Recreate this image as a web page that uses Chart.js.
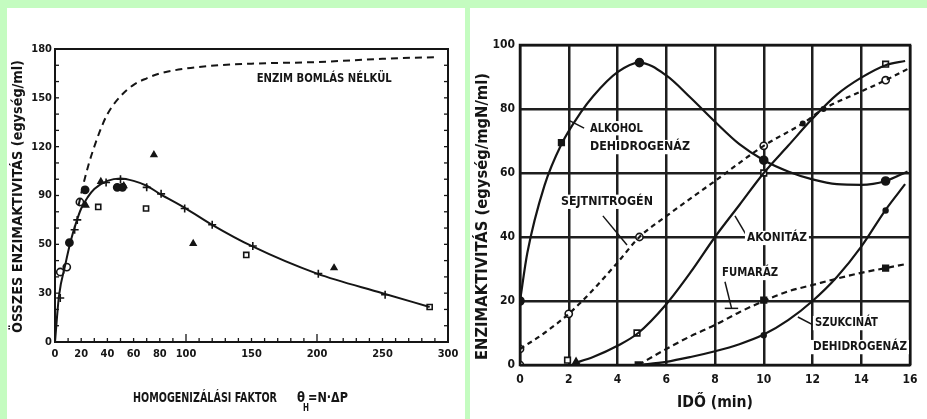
<!DOCTYPE html>
<html><head><meta charset="utf-8">
<script src="https://cdn.jsdelivr.net/npm/chart.js@4.4.1/dist/chart.umd.min.js"></script>
<style>
html,body{margin:0;padding:0;background:#c4fcc0;width:927px;height:419px;overflow:hidden;}
.panel{position:absolute;background:#fff;}
#p1{left:7px;top:8px;width:458px;height:411px;}
#p2{left:470px;top:8px;width:457px;height:411px;}
canvas{display:block;}
</style></head><body>
<div class="panel" id="p1"><canvas id="c1" width="458" height="411"></canvas></div>
<div class="panel" id="p2"><canvas id="c2" width="457" height="411"></canvas></div>
<script>
// ---------- LEFT CHART DATA ----------
const leftTickValuesX = [0,20,40,60,80,100,150,200,250,300];
const leftTickValuesY = [0,30,60,90,120,150,180];
const leftTickLabelsY = ['0','30','50','90','120','150','180'];

const noDecayX = [18,22,26,30,35,40,50,60,70,80,100,125,150,200,250,290];
const noDecayY = [84,98,110,120,131,140,151,158,162,165,168,170,171,172,174,175];

const activityX = [0,3,8,12,16,20,25,30,40,50,60,70,80,100,120,150,200,250,286];
const activityY = [0,28,48,62,73,82,89,94,99,100.5,99,96,91,82,72,59,42,30,21.5];

const crossX = [4,15,17,39,50,70,81,99,120,151,201,252];
const crossY = [27,69,75,98,100,95,91,82,72,59,42,29];
const openCircleX = [4,9,19];
const openCircleY = [43,46,86];
const filledCircleX = [11,23,47.5,51.5];
const filledCircleY = [61,93.5,95,95];
const openSquareX = [33,69.5,146,286];
const openSquareY = [83,82,53.5,21.5];
const triangleX = [23.5,35,52.5,75.5,105.5,213];
const triangleY = [84,98.5,96,115,60.5,45.5];

// ---------- RIGHT CHART DATA ----------
const rightTickValuesX = [0,2,4,6,8,10,12,14,16];
const rightTickValuesY = [0,20,40,60,80,100];

const alkoholX = [0,0.3,1,1.7,2.5,3,4,4.9,6,7,8,9,10,11,12,13,14,15,15.9];
const alkoholY = [20,35,56,69,79,84,91.5,94.5,90.5,83.5,76,69,64,60.5,58,56.5,56.3,57.5,60.5];
const alkoholMarkX = [0,4.9,10,15];
const alkoholMarkY = [20,94.5,64,57.5];
const alkoholSquareX = [1.7];
const alkoholSquareY = [69.5];

const sejtX = [0,1,2,3,4,4.9,6,8,10,11.6,12.45,14,15,15.9];
const sejtY = [5,10,16,23.5,32,40,46.5,57.5,68.5,75.5,80,85.5,89,92.5];
const sejtMarkX = [0,0,2,4.9,10,15];
const sejtMarkY = [0,5,16,40,68.5,89];
const sejtDotX = [11.6,12.45];
const sejtDotY = [75.5,80];

const akonitazX = [2.2,3,4,4.85,6,7,8,9,10,11,12,13,14,15,15.8];
const akonitazY = [0.5,2.5,6,10,19,29,40,50,60,68.5,77,84.5,89.8,93.7,95];
const akonitazMarkX = [1.95,4.8,10,15];
const akonitazMarkY = [1.5,10,60,94];
const akonitazStartX = [2.3];
const akonitazStartY = [1];

const fumarazX = [4.85,6,7,8,9,10,11,12,13,14,15,15.8];
const fumarazY = [0,5,9,12.5,16.5,20,23,25,27,28.8,30.3,31.5];
const fumarazMarkX = [4.85,10,15];
const fumarazMarkY = [0,20.3,30.3];

const szukcX = [4.85,6,7,8,9,10,11,12,13,14,15,15.8];
const szukcY = [0,1,2.5,4.3,6.5,9.5,14,20,27.5,37,48.5,56.5];
const szukcMarkX = [10,15];
const szukcMarkY = [9.3,48.3];

// ---------- helpers ----------
const FONT = '"DejaVu Sans Condensed","DejaVu Sans",sans-serif';
const INK = '#151515';
const zip = (xs, ys) => xs.map((x, i) => ({x, y: ys[i]}));

function curve(xs, ys, dash, width) {
  return {data: zip(xs, ys), showLine: true, borderColor: INK, borderWidth: width || 2,
    borderDash: dash || [], pointRadius: 0, cubicInterpolationMode: 'monotone', fill: false};
}
function marks(xs, ys, style, r, filled) {
  return {data: zip(xs, ys), showLine: false, pointStyle: style, pointRadius: r,
    pointBorderColor: INK, pointBorderWidth: 1.6,
    pointBackgroundColor: filled ? INK : '#fff'};
}
function fixSize(dim, val) { return s => { s[dim] = val; }; }

Chart.defaults.font.family = FONT;
Chart.defaults.font.weight = 'bold';
Chart.defaults.color = INK;

// draw text squeezed horizontally to a target width (left aligned, middle baseline)
function fitText(ctx, txt, x, y, size, width, bg, rot) {
  ctx.save();
  ctx.font = 'bold ' + size + 'px ' + FONT;
  ctx.textAlign = 'left'; ctx.textBaseline = 'middle';
  const w = ctx.measureText(txt).width;
  const sx = width / w;
  ctx.translate(x, y);
  if (rot) ctx.rotate(rot);
  if (bg) { ctx.fillStyle = '#fff'; ctx.fillRect(-2, -size * 0.55, width + 4, size * 1.1); }
  ctx.scale(sx, 1);
  ctx.fillStyle = INK;
  ctx.fillText(txt, 0, 0);
  ctx.restore();
}
function line(ctx, x1, y1, x2, y2, w) {
  ctx.beginPath(); ctx.lineWidth = w || 1.5; ctx.strokeStyle = INK;
  ctx.moveTo(x1, y1); ctx.lineTo(x2, y2); ctx.stroke();
}

// ---------- LEFT CHART ----------
const leftDecor = {
  id: 'leftDecor',
  afterDraw(chart) {
    const {ctx, chartArea: a, scales: {x, y}} = chart;
    ctx.save();
    ctx.lineWidth = 2; ctx.strokeStyle = INK;
    ctx.strokeRect(a.left, a.top, a.right - a.left, a.bottom - a.top);
    for (let v = 10; v < 300; v += 10) {
      const px = x.getPixelForValue(v);
      const len = (v === 100 || v === 200) ? 8 : 4;
      line(ctx, px, a.bottom, px, a.bottom - len, 1.3);
    }
    for (let v = 10; v < 180; v += 10) {
      const py = y.getPixelForValue(v);
      line(ctx, a.left, py, a.left + 4, py, 1.3);
      line(ctx, a.right, py, a.right - 4, py, 1.3);
    }
    fitText(ctx, 'ENZIM BOMLÁS NÉLKÜL', x.getPixelForValue(154), y.getPixelForValue(162), 13, 135);
    // y title (rotated): starts at bottom
    fitText(ctx, 'ÖSSZES ENZIMAKTIVITÁS (egység/ml)', 11, 325, 14, 273, false, -Math.PI / 2);
    // x title
    fitText(ctx, 'HOMOGENIZÁLÁSI FAKTOR', 126, 390, 14, 144);
    fitText(ctx, 'θ', 290, 390, 14, 8);
    fitText(ctx, 'H', 296, 400, 11, 6);
    fitText(ctx, '=N·ΔP', 301, 390, 14, 40);
    ctx.restore();
  }
};

new Chart(document.getElementById('c1'), {
  type: 'scatter',
  data: {datasets: [
    curve(noDecayX, noDecayY, [7, 5], 2),
    curve(activityX, activityY, [], 2),
    marks(crossX, crossY, 'cross', 4, true),
    marks(openCircleX, openCircleY, 'circle', 3.6, false),
    marks(filledCircleX, filledCircleY, 'circle', 3.6, true),
    marks(openSquareX, openSquareY, 'rect', 3.6, false),
    marks(triangleX, triangleY, 'triangle', 3.2, true)
  ]},
  options: {
    responsive: false, animation: false, events: [],
    layout: {padding: {left: 0, right: 17, top: 41, bottom: 0}},
    plugins: {legend: {display: false}, tooltip: {enabled: false}},
    scales: {
      x: {type: 'linear', min: 0, max: 300,
        afterBuildTicks: s => { s.ticks = leftTickValuesX.map(v => ({value: v})); },
        afterFit: fixSize('height', 77),
        grid: {display: false, drawTicks: false}, border: {display: false},
        ticks: {padding: 6, font: {size: 11, weight: 'bold'}, color: INK, maxRotation: 0, autoSkip: false}},
      y: {type: 'linear', min: 0, max: 180,
        afterBuildTicks: s => { s.ticks = leftTickValuesY.map(v => ({value: v})); },
        afterFit: fixSize('width', 48),
        grid: {display: false, drawTicks: false}, border: {display: false},
        ticks: {padding: 3, font: {size: 11, weight: 'bold'}, color: INK, autoSkip: false,
          callback: (v, i) => leftTickLabelsY[i]}}
    }
  },
  plugins: [leftDecor]
});

// ---------- RIGHT CHART ----------
const rightDecor = {
  id: 'rightDecor',
  afterDraw(chart) {
    const {ctx, chartArea: a, scales: {x, y}} = chart;
    const X = v => x.getPixelForValue(v), Y = v => y.getPixelForValue(v);
    ctx.save();
    ctx.lineWidth = 2.5; ctx.strokeStyle = INK;
    ctx.strokeRect(a.left, a.top, a.right - a.left, a.bottom - a.top);
    // leaders
    line(ctx, X(2.05), Y(76.3), X(2.63), Y(74));
    line(ctx, X(3.4), Y(46.6), X(4.39), Y(37.5));
    line(ctx, X(8.82), Y(46.6), X(9.31), Y(40.3));
    line(ctx, X(8.41), Y(26), X(8.68), Y(17.7));
    line(ctx, X(8.4), Y(17.7), X(8.95), Y(17.7));
    line(ctx, X(11.4), Y(15), X(12.1), Y(12.2));
    // labels
    fitText(ctx, 'ALKOHOL', X(2.87), Y(74), 13, 53, true);
    fitText(ctx, 'DEHIDROGENÁZ', X(2.87), Y(68.1), 13, 100, true);
    fitText(ctx, 'SEJTNITROGÉN', X(1.68), Y(51), 13, 92, true);
    fitText(ctx, 'AKONITÁZ', X(9.31), Y(39.7), 13, 60, true);
    fitText(ctx, 'FUMARÁZ', X(8.29), Y(28.75), 13, 56, true);
    fitText(ctx, 'SZUKCINÁT', X(12.1), Y(13.1), 13, 63, true);
    fitText(ctx, 'DEHIDROGENÁZ', X(12.02), Y(5.6), 13, 94, true);
    // titles
    fitText(ctx, 'ENZIMAKTIVITÁS (egység/mgN/ml)', 13, 352, 15, 287, false, -Math.PI / 2);
    fitText(ctx, 'IDŐ (min)', 207, 395, 15, 76);
    ctx.restore();
  }
};

new Chart(document.getElementById('c2'), {
  type: 'scatter',
  data: {datasets: [
    curve(alkoholX, alkoholY, [], 2.2),
    curve(sejtX, sejtY, [5, 4], 2.2),
    curve(akonitazX, akonitazY, [], 2.2),
    curve(fumarazX, fumarazY, [6, 4], 2.2),
    curve(szukcX, szukcY, [], 2.2),
    marks(alkoholMarkX, alkoholMarkY, 'circle', 4, true),
    marks(alkoholSquareX, alkoholSquareY, 'rect', 4, true),
    marks(sejtMarkX, sejtMarkY, 'circle', 3.6, false),
    marks(sejtDotX, sejtDotY, 'circle', 2.2, true),
    marks(akonitazMarkX, akonitazMarkY, 'rect', 4, false),
    marks(akonitazStartX, akonitazStartY, 'triangle', 3.6, true),
    marks(fumarazMarkX, fumarazMarkY, 'rect', 4, true),
    marks(szukcMarkX, szukcMarkY, 'circle', 2.4, true)
  ]},
  options: {
    responsive: false, animation: false, events: [],
    layout: {padding: {left: 0, right: 17, top: 37, bottom: 0}},
    plugins: {legend: {display: false}, tooltip: {enabled: false}},
    scales: {
      x: {type: 'linear', min: 0, max: 16,
        afterBuildTicks: s => { s.ticks = rightTickValuesX.map(v => ({value: v})); },
        afterFit: fixSize('height', 54),
        grid: {display: true, drawTicks: false, color: '#1e1e1e', lineWidth: 2.5}, border: {display: false},
        ticks: {padding: 8, font: {size: 12, weight: 'bold'}, color: INK, maxRotation: 0, autoSkip: false}},
      y: {type: 'linear', min: 0, max: 100,
        afterBuildTicks: s => { s.ticks = rightTickValuesY.map(v => ({value: v})); },
        afterFit: fixSize('width', 50),
        grid: {display: true, drawTicks: false, color: '#1e1e1e', lineWidth: 2.5}, border: {display: false},
        ticks: {padding: 5, font: {size: 12, weight: 'bold'}, color: INK, autoSkip: false}}
    }
  },
  plugins: [rightDecor]
});
</script>
</body></html>
